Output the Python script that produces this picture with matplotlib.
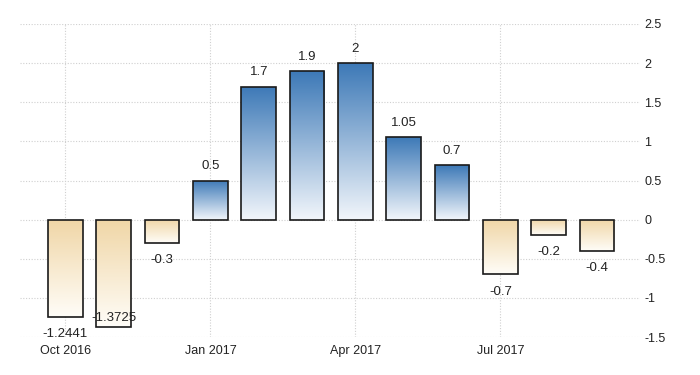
import numpy as np
import matplotlib
matplotlib.use("Agg")
import matplotlib.pyplot as plt
from matplotlib.colors import LinearSegmentedColormap

months = ["Oct 2016", "Nov 2016", "Dec 2016", "Jan 2017", "Feb 2017", "Mar 2017",
          "Apr 2017", "May 2017", "Jun 2017", "Jul 2017", "Aug 2017", "Sep 2017"]
values = [-1.2441, -1.3725, -0.3, 0.5, 1.7, 1.9, 2.0, 1.05, 0.7, -0.7, -0.2, -0.4]
labels = ["-1.2441", "-1.3725", "-0.3", "0.5", "1.7", "1.9", "2", "1.05", "0.7", "-0.7", "-0.2", "-0.4"]
tick_idx = [0, 3, 6, 9]
tick_labels = ["Oct 2016", "Jan 2017", "Apr 2017", "Jul 2017"]
yticks = [-1.5, -1, -0.5, 0, 0.5, 1, 1.5, 2, 2.5]
ytick_labels = ["-1.5", "-1", "-0.5", "0", "0.5", "1", "1.5", "2", "2.5"]

plt.rcParams["font.family"] = ["Liberation Sans", "DejaVu Sans"]

fig = plt.figure(figsize=(7.0, 3.75), dpi=100)
ax = fig.add_axes([20/700, 38/375, 620/700, 313/375])
x = np.arange(len(values))
ax.set_xlim(-0.94, 11.89)
ax.set_ylim(-1.5, 2.5)

blue = LinearSegmentedColormap.from_list("b", ["#f2f6fb", "#3d79b7"])
tan = LinearSegmentedColormap.from_list("t", ["#fffdf8", "#f0d6a6"])

bars = ax.bar(x, values, width=0.72, color="none", edgecolor="#1a1a1a", linewidth=1.2, zorder=3)
grad = np.linspace(0, 1, 256).reshape(-1, 1)
for b, v in zip(bars, values):
    x0 = b.get_x(); w = b.get_width()
    y0, y1 = (0, v) if v >= 0 else (v, 0)
    cmap = blue if v >= 0 else tan
    im = ax.imshow(grad, cmap=cmap, aspect="auto", origin="lower",
                   extent=[x0, x0 + w, y0, y1], zorder=2)
    im.set_clip_path(b)

for xi, v, lab in zip(x, values, labels):
    if v >= 0:
        ax.annotate(lab, (xi, v), xytext=(0, 6), textcoords="offset points",
                    ha="center", va="bottom", fontsize=9.5, color="#222222")
    elif v < -1.3:
        ax.annotate(lab, (xi, v), xytext=(0, 2), textcoords="offset points",
                    ha="center", va="bottom", fontsize=9.5, color="#222222")
    else:
        ax.annotate(lab, (xi, v), xytext=(0, -8), textcoords="offset points",
                    ha="center", va="top", fontsize=9.5, color="#222222")

ax.set_xticks(tick_idx)
ax.set_xticklabels(tick_labels, fontsize=9, color="#222222")
ax.set_yticks(yticks)
ax.set_yticklabels(ytick_labels, fontsize=9, color="#222222")
ax.yaxis.tick_right()
ax.tick_params(axis="both", length=0, pad=3)
ax.tick_params(axis="x", pad=6)
ax.grid(True, color="#d0d0d0", linestyle=(0, (1, 1.5)), linewidth=0.8, zorder=0)
ax.set_axisbelow(True)
for s in ax.spines.values():
    s.set_visible(False)

fig.savefig("out.png", dpi=100, facecolor="white")
